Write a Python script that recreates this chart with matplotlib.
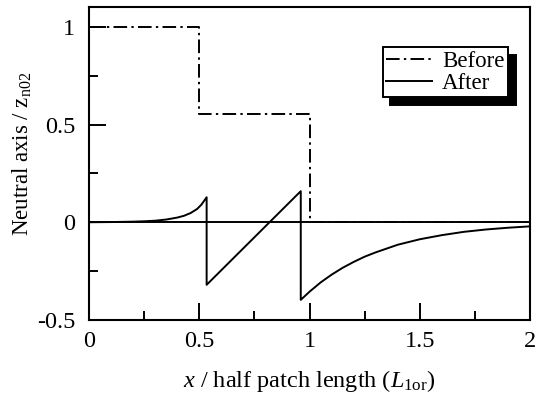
import numpy as np
import matplotlib
matplotlib.use('Agg')
import matplotlib.pyplot as plt

plt.rcParams['font.family'] = ['Liberation Serif', 'DejaVu Serif']
plt.rcParams['mathtext.fontset'] = 'custom'
plt.rcParams['mathtext.rm'] = 'Liberation Serif'
plt.rcParams['mathtext.it'] = 'Liberation Serif:italic'
plt.rcParams['axes.unicode_minus'] = False

# "Before": step profile of the neutral axis
x_before = [0, 0.5, 0.5, 1.0, 1.0, 2.0]
y_before = [1.0, 1.0, 0.554, 0.554, 0.0, 0.0]

# "After"
x_after = [0, 0.1, 0.2, 0.25, 0.3, 0.35, 0.4, 0.43, 0.46, 0.49, 0.51, 0.533,
           0.533, 0.96,
           0.96, 1.0, 1.05, 1.1, 1.15, 1.2, 1.25, 1.3, 1.4, 1.5, 1.6, 1.7, 1.8, 1.9, 2.0]
y_after = [0, 0.001, 0.003, 0.005, 0.008, 0.014, 0.024, 0.033, 0.047, 0.068, 0.091, 0.128,
           -0.32, 0.159,
           -0.397, -0.355, -0.308, -0.268, -0.233, -0.203, -0.176, -0.154, -0.115, -0.087,
           -0.066, -0.049, -0.037, -0.028, -0.021]

x_ticks = [0, 0.5, 1, 1.5, 2]
x_ticklabels = ['0', '0.5', '1', '1.5', '2']
x_minor = [0.25, 0.75, 1.25, 1.75]
y_ticks = [-0.5, 0, 0.5, 1]
y_ticklabels = ['-0.5', '0', '0.5', '1']
y_minor = [-0.25, 0.25, 0.75]

fig = plt.figure(figsize=(5.37, 4.01), dpi=100)
ax = fig.add_subplot(111)
fig.subplots_adjust(left=0.166, right=0.987, top=0.982, bottom=0.202)

ax.axhline(0, color='black', linewidth=1.4, zorder=1)
ax.plot(x_before, y_before, color='black', linewidth=1.4,
        linestyle=(0, (7, 2.2, 1.2, 2.2)), label='Before')
ax.plot(x_after, y_after, color='black', linewidth=1.4, label='After')

ax.set_xlim(0, 2)
ax.set_ylim(-0.5, 1.1)
ax.set_xticks(x_ticks)
ax.set_xticklabels(x_ticklabels)
ax.set_xticks(x_minor, minor=True)
ax.set_yticks(y_ticks)
ax.set_yticklabels(y_ticklabels)
ax.set_yticks(y_minor, minor=True)

ax.tick_params(which='both', direction='in', top=False, right=False, width=1.4,
               labelsize=17.5)
ax.tick_params(axis='x', which='major', length=12, pad=8)
ax.tick_params(axis='y', which='major', length=12, pad=10)
ax.tick_params(which='minor', length=6.5)
for s in ax.spines.values():
    s.set_linewidth(1.5)

ax.set_xlabel('$x$ / half patch length ($L_{\\mathregular{1or}}$)', fontsize=17.5)
ax.xaxis.set_label_coords(0.5, -0.155)
ax.set_ylabel('Neutral axis / z$_{\\mathregular{n02}}$', fontsize=16.5)
ax.yaxis.set_label_coords(-0.125, 0.53)

leg = ax.legend(loc='upper right', bbox_to_anchor=(0.95, 0.872), fontsize=16.5,
                frameon=True, fancybox=False, edgecolor='black', framealpha=1,
                shadow={'ox': 5.5, 'oy': -5.5, 'color': 'black', 'alpha': 1},
                handlelength=2.0, handletextpad=0.45, borderpad=0.15,
                labelspacing=0.05, borderaxespad=0)
leg.get_frame().set_linewidth(1.4)

fig.savefig('out.png', dpi=100)
